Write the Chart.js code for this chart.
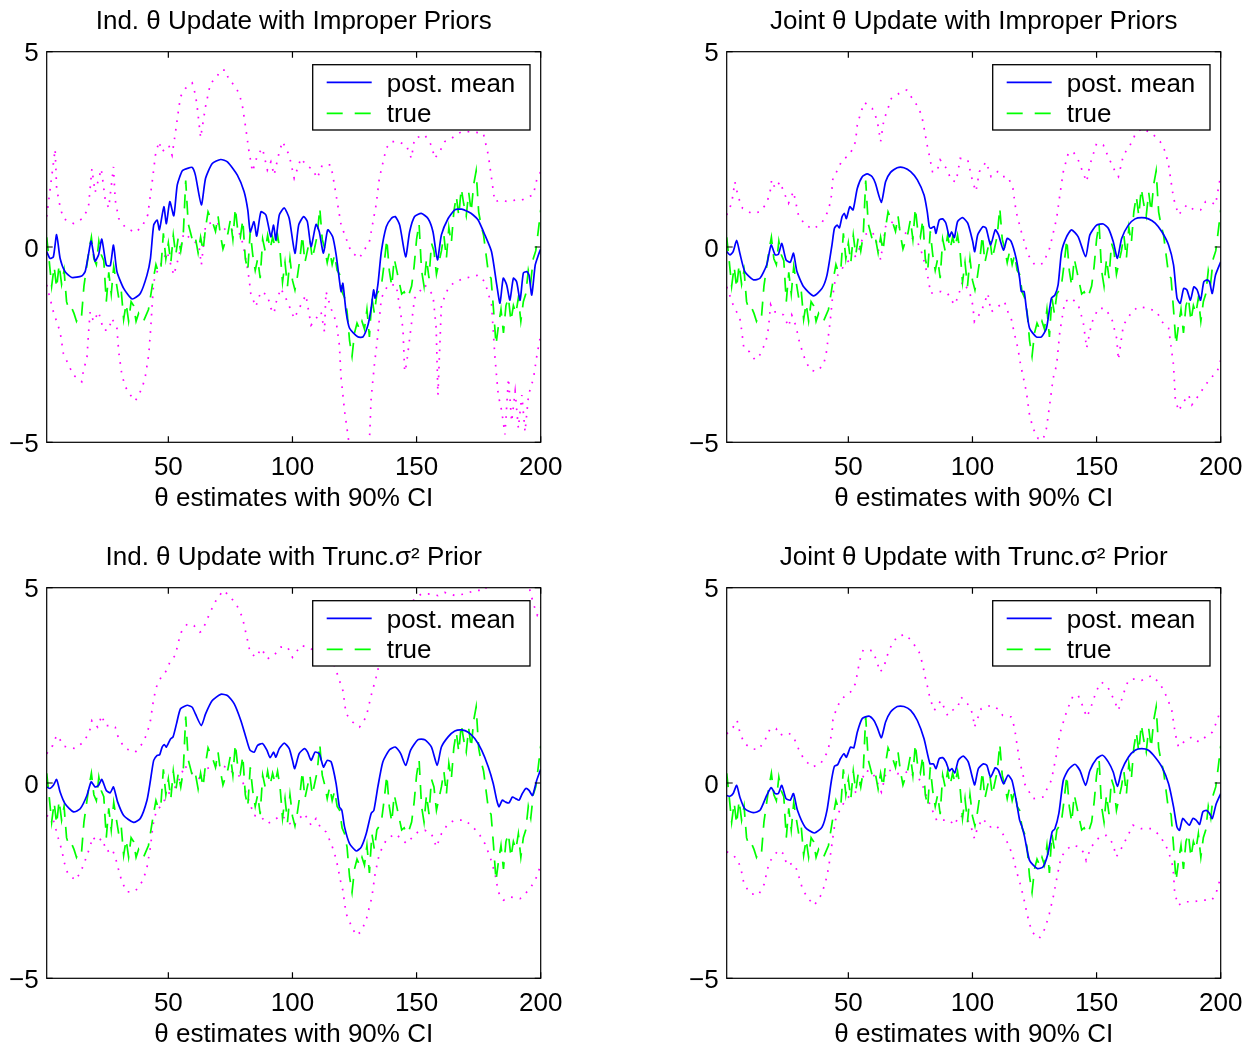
<!DOCTYPE html>
<html><head><meta charset="utf-8">
<script src="https://cdn.jsdelivr.net/npm/chart.js@4/dist/chart.umd.min.js"></script>
<style>
html,body{margin:0;padding:0;background:#fff;overflow:hidden;width:1260px;height:1050px;position:relative;}
canvas{position:absolute;}
</style></head><body>
<canvas id="c1" width="588" height="525" style="left:0;top:0"></canvas>
<canvas id="c2" width="588" height="525" style="left:680px;top:0"></canvas>
<canvas id="c3" width="588" height="525" style="left:0;top:536px"></canvas>
<canvas id="c4" width="588" height="525" style="left:680px;top:536px"></canvas>
<script>
// ---------- labels ----------
const panelTitles = [
  'Ind. \u03B8 Update with Improper Priors',
  'Joint \u03B8 Update with Improper Priors',
  'Ind. \u03B8 Update with Trunc.\u03C3\u00B2 Prior',
  'Joint \u03B8 Update with Trunc.\u03C3\u00B2 Prior'
];
const xAxisTitle = '\u03B8 estimates with 90% CI';
const legendLabels = ['post. mean', 'true'];
const xTickVals = [50, 100, 150, 200];
const yTickVals = [-5, 0, 5];

// ---------- true theta (x = 1..200) ----------
const trueVals = [
 0.25,-0.35,-1.0,-0.5,-1.05,-0.45,-0.95,-0.6,-1.4,-1.6,
 -1.55,-1.7,-1.9,-1.75,-1.8,-1.0,-0.55,-0.1,0.25,-0.3,
 -0.45,0.15,-0.2,-0.35,-1.4,-0.65,-1.2,-0.5,-0.9,-1.3,
 -1.1,-1.85,-1.45,-1.9,-1.4,-1.5,-1.9,-1.7,-1.85,-1.9,
 -1.75,-1.6,-1.2,-0.8,-0.45,-0.65,-0.55,0.35,-0.3,0.1,
 -0.4,0.3,-0.2,0.25,-0.1,0.3,1.7,0.6,0.35,0.1,
 0.2,-0.15,0.25,-0.1,0.5,0.9,0.75,0.6,0.4,0.8,
 0.3,-0.05,0.15,0.35,0.7,0.2,1.0,0.4,0.25,0.7,
 -0.3,-0.6,0.4,-0.2,-0.6,-0.3,-0.8,0.2,-0.1,0.3,
 -0.05,0.25,0.0,0.3,-0.1,-0.9,-0.4,-1.0,-0.3,-0.85,
 -1.1,-0.75,-0.3,0.3,-0.4,-0.1,0.2,-0.3,0.0,0.3,
 1.0,0.2,-0.05,-0.4,-0.1,-0.45,-0.2,-0.6,-0.7,-1.15,
 -1.3,-1.65,-2.4,-2.8,-2.2,-1.95,-2.1,-1.9,-2.1,-1.6,
 -2.3,-1.3,-1.7,-1.2,-1.1,-0.9,-0.4,0.2,-0.6,-1.0,
 -0.3,-0.6,-0.9,-1.2,-1.15,-1.3,-1.2,-1.0,-0.5,0.2,
 0.6,-0.6,-1.0,-0.3,-0.8,0.1,-0.1,-0.7,-0.4,-0.1,
 0.3,-0.3,0.5,0.1,0.9,1.3,0.8,1.5,1.1,0.8,
 1.4,0.9,1.6,1.95,0.9,0.55,0.3,-0.2,-0.7,-0.8,
 -1.6,-2.5,-2.0,-1.6,-2.2,-1.5,-1.3,-1.9,-1.5,-1.7,
 -1.3,-1.9,-1.4,-1.2,-0.6,-0.9,-0.3,-0.1,0.4,0.95
];

// ---------- Panel 1: Ind. update, improper priors ----------
const indImpMean = [[1,-0.12],[2.3,-0.29],[3.7,-0.25],[5,0.32],[6.4,-0.29],[8.4,-0.63],[11.1,-0.78],[15.1,-0.74],[16.5,-0.63],[17.8,-0.2],[18.9,0.15],[20.5,-0.36],[21.9,-0.2],[23.2,0.2],[25,-0.46],[26.6,-0.48],[27.9,0.05],[29.3,-0.63],[32,-1.06],[35.4,-1.33],[38.7,-1.19],[41.4,-0.72],[42.8,-0.29],[44.1,0.56],[45.5,0.69],[46.4,0.44],[48.2,1.03],[49.2,0.6],[50.6,1.16],[52.2,0.8],[53.6,1.59],[55.6,1.95],[57.6,2.01],[59.6,2.04],[60.9,1.84],[63.3,1.08],[65,1.76],[67.7,2.14],[71.1,2.24],[73.8,2.18],[77.8,1.84],[80.5,1.42],[82,0.95],[83,0.39],[84.5,0.65],[85.6,0.28],[87.3,0.9],[89.3,0.82],[91.3,0.26],[92.4,0.56],[93.3,0.18],[94.7,0.82],[96.7,1.0],[98.7,0.73],[101,-0.16],[102.5,0.56],[104.5,0.78],[106,0.65],[107.5,0.01],[109.5,0.58],[110.8,0.39],[112.5,-0.16],[114.2,0.44],[116.2,0.26],[117.6,-0.2],[118.9,-0.84],[119.6,-1.14],[120.3,-0.93],[121.6,-1.66],[123,-2.08],[126.3,-2.3],[128.4,-2.3],[130.4,-2.0],[131.7,-1.57],[132.7,-1.1],[133.3,-1.31],[134.4,-0.97],[135.8,-0.12],[137.8,0.52],[139.8,0.73],[141.4,0.78],[143.2,0.56],[145.6,-0.25],[147.2,0.39],[149.2,0.78],[151.9,0.86],[154.6,0.73],[156.6,0.39],[158.4,-0.33],[160,0.31],[162.7,0.73],[165.4,0.95],[168.1,0.97],[170.8,0.9],[172.8,0.82],[174.8,0.69],[177.5,0.31],[180.2,-0.12],[182.3,-0.97],[183.6,-1.44],[184.9,-0.8],[186.3,-0.97],[187.6,-1.36],[189,-0.8],[190.3,-0.89],[191.7,-1.36],[193,-0.67],[194.4,-0.63],[195.3,-0.72],[196.4,-1.23],[197.8,-0.46],[199.1,-0.2],[200,-0.05]];
const indImpUpper = [[1,0.78],[4.4,2.5],[5,1.5],[6.4,1.03],[7.7,0.73],[11.8,0.6],[15.5,0.73],[17.8,1.0],[19.2,2.0],[20.5,1.4],[23,2.0],[24.6,1.2],[26,1.0],[27.9,2.05],[28.6,1.2],[30,0.73],[32.7,0.5],[36.7,0.37],[39.4,0.52],[41.7,0.82],[43.5,1.67],[44.8,2.35],[46.2,2.7],[47.5,2.44],[50.2,2.6],[51.5,2.35],[52.9,2.95],[54.2,3.55],[54.9,3.85],[56.9,4.06],[59.6,4.2],[60.9,3.9],[61.6,3.6],[63,2.8],[65,3.6],[67,4.2],[69,4.3],[71.1,4.53],[73.1,4.53],[74.4,4.27],[76.5,4.15],[78.5,3.93],[79.8,3.63],[81.2,3.04],[82.5,2.44],[83.9,1.93],[85.9,2.35],[87.9,2.53],[89.9,1.97],[91.3,2.18],[92.6,1.84],[94.7,2.44],[96,2.7],[98.7,2.35],[100.7,1.76],[103.4,2.27],[106,2.06],[108,2.0],[110,1.76],[112,2.1],[115.5,2.1],[116.9,1.59],[119.6,0.56],[123.6,-0.12],[126.9,-0.29],[131,0.14],[133.7,1.08],[135,1.76],[137.8,2.53],[139.8,2.7],[142.5,2.7],[145.9,2.6],[147.9,2.27],[149.2,2.78],[153.3,2.87],[156,2.6],[157.3,2.27],[159.3,2.44],[161.4,2.7],[164,2.78],[168,2.95],[172,2.95],[176.9,2.91],[178.9,2.35],[181.5,1.16],[183.6,1.2],[187,1.16],[189.7,1.2],[192.4,1.2],[195.1,1.29],[197,1.33],[198.4,1.72],[200,1.93]];
const indImpLower = [[1,-0.97],[3.7,-1.66],[6.4,-2.17],[7.7,-2.72],[9.8,-3.02],[11.8,-3.28],[15.1,-3.45],[15.8,-3.15],[17.2,-2.85],[17.8,-2.25],[18.5,-1.66],[19.9,-1.91],[21.9,-1.66],[23.9,-2.13],[25.9,-2.13],[27.3,-1.83],[29.3,-2.08],[30,-2.68],[31.3,-3.28],[32.7,-3.58],[34.7,-3.79],[36.7,-3.94],[39.4,-3.62],[40.7,-3.32],[42.1,-2.76],[42.8,-2.17],[44.1,-0.89],[45.5,-0.63],[46.8,-0.46],[48.2,-0.29],[49.5,-0.12],[52.2,-0.72],[54,-0.3],[56.2,0.35],[58.9,0.22],[62.3,0.05],[63.3,-0.46],[65,0.56],[68.4,0.65],[71.8,0.52],[73.8,0.39],[76.5,0.44],[79.2,0.31],[81.2,-0.29],[82.5,-0.8],[83.2,-1.19],[85.2,-1.53],[87.3,-1.14],[89.9,-1.23],[91.3,-1.57],[92.6,-1.7],[93.3,-1.44],[95.3,-1.06],[98,-1.4],[100.7,-1.83],[102.7,-1.57],[105.4,-1.23],[107.5,-2.0],[109.5,-1.83],[111.5,-1.66],[112.9,-2.17],[113.5,-1.14],[115.5,-1.57],[117.6,-1.91],[118.9,-2.51],[119.6,-3.36],[121,-4.2],[122.3,-4.8],[124,-5.6],[127,-6.5],[129,-6.0],[131,-4.98],[131.7,-3.87],[133,-3.02],[134.4,-2.25],[135.8,-1.31],[138.5,-0.97],[141.8,-0.97],[144.5,-2.08],[145.2,-3.19],[145.9,-3.02],[149.2,-1.31],[153.3,-0.97],[156.6,-1.23],[157.9,-2.08],[158.6,-3.79],[160,-1.48],[162.7,-1.06],[165.4,-0.89],[169.5,-0.8],[174.8,-0.72],[177.5,-0.89],[180.2,-1.48],[181.6,-2.85],[182.9,-3.79],[184.3,-4.2],[185.6,-4.8],[187,-3.36],[188.3,-4.47],[189.7,-3.7],[191,-4.64],[192.4,-3.79],[193.7,-4.73],[195.1,-3.79],[197.1,-3.36],[198.5,-2.76],[200,-2.25]];

// ---------- Panel 2: Joint update, improper priors ----------
const jointImpMean = [[1,-0.12],[2.3,-0.2],[3.6,-0.12],[5,0.17],[6.3,-0.16],[8.3,-0.63],[11.7,-0.84],[14.4,-0.8],[17.1,-0.46],[18.9,0.05],[20.5,-0.2],[21.8,-0.19],[23.2,0.09],[24.9,-0.33],[26.6,-0.39],[27.9,-0.16],[29.3,-0.63],[32,-1.02],[36,-1.25],[39.4,-1.06],[41.4,-0.72],[43.4,0.05],[44.4,0.48],[45.5,0.56],[46.4,0.49],[47.5,0.78],[48.4,0.86],[49.2,0.73],[50.6,1.03],[51.9,0.95],[53.6,1.5],[55.6,1.8],[57.6,1.87],[59.6,1.8],[60.9,1.63],[63.3,1.14],[65,1.67],[67,1.91],[69.7,2.03],[72.4,2.03],[75.1,1.93],[77.8,1.72],[80.5,1.33],[81.8,0.9],[82.6,0.52],[83.2,0.48],[84.6,0.52],[85.3,0.35],[86.6,0.69],[88,0.72],[89.3,0.61],[90.7,0.26],[91.6,0.39],[92.7,0.24],[94,0.65],[96,0.75],[98.1,0.61],[100.1,0.14],[100.9,-0.12],[102.1,0.31],[104.2,0.52],[105.5,0.48],[107.3,0.05],[109.2,0.44],[110.5,0.31],[112.5,-0.08],[114,0.22],[115.6,0.14],[117.6,-0.29],[119,-0.8],[119.7,-1.14],[120.8,-1.14],[121.7,-1.57],[123,-2.08],[125.7,-2.3],[127.8,-2.3],[129.8,-2.08],[131.8,-1.31],[133.2,-1.23],[134.5,-0.97],[135.9,-0.12],[137.9,0.26],[139.9,0.44],[142.6,0.26],[145.6,-0.25],[147.3,0.31],[150,0.56],[152.7,0.59],[154.7,0.48],[156.7,0.14],[158.4,-0.29],[160.1,0.22],[162.8,0.56],[165.5,0.72],[168.2,0.75],[170.9,0.72],[173.6,0.61],[176.3,0.39],[179,0.05],[181,-0.46],[182.4,-1.31],[183.7,-1.44],[185.1,-1.06],[186.4,-1.1],[187.8,-1.36],[189.2,-1.02],[190.5,-1.1],[191.9,-1.36],[193.2,-0.89],[194.6,-0.84],[195.5,-0.89],[196.6,-1.19],[197.9,-0.72],[200,-0.38]];
const jointImpUpper = [[1,0.82],[3,1.12],[4.3,1.67],[5.6,1.29],[7.4,0.99],[11,0.86],[14.4,0.9],[17.1,1.12],[18.5,1.42],[19.1,1.72],[20.5,1.5],[22.5,1.67],[23.9,1.42],[25.9,1.12],[27.9,1.42],[29.9,0.82],[32.6,0.56],[36,0.46],[39.4,0.63],[41.7,0.9],[43,1.2],[43.8,1.77],[45.5,1.95],[47.5,2.23],[49.5,2.31],[51.5,2.48],[52.9,2.7],[53.6,3.12],[54.9,3.42],[56.5,3.7],[59.6,3.55],[61.6,3.25],[63,2.7],[64.3,3.25],[65.7,3.5],[67.3,3.8],[70.4,3.93],[73.5,4.02],[75.8,3.8],[78.5,3.55],[79.9,3.25],[80.8,2.95],[81.6,2.65],[82.6,2.35],[83.9,1.93],[85.7,1.93],[87,2.23],[90,1.97],[91.3,1.71],[93.4,1.67],[95.1,2.27],[98.1,2.23],[100.1,1.67],[101.4,1.42],[102.8,1.93],[105.5,2.18],[107.5,1.8],[110.2,1.93],[112.2,1.8],[114.3,1.8],[116.3,1.5],[117.6,0.9],[119.7,0.39],[122.4,-0.2],[125.1,-0.46],[128.5,-0.42],[131.1,-0.03],[133.9,0.73],[135.2,1.33],[136.6,1.93],[138.6,2.4],[140.6,2.44],[142.6,2.23],[144.6,1.89],[146,1.67],[147.3,2.1],[150,2.65],[152.7,2.61],[154.7,2.31],[157.5,1.93],[158.8,1.8],[160.8,2.35],[163.5,2.61],[165.5,2.87],[168.2,3.04],[172.3,2.91],[175.6,2.7],[177.7,2.44],[179,2.1],[181,1.25],[183,0.82],[186.4,1.08],[189.2,0.95],[191.9,0.95],[193.9,1.16],[195.9,1.16],[197.9,1.08],[200,1.84]];
const jointImpLower = [[1,-1.02],[3.6,-1.48],[6.3,-1.83],[7,-2.12],[7.9,-2.59],[10.1,-2.68],[12.4,-2.89],[14.4,-2.76],[16.8,-2.42],[17.8,-2.08],[18.7,-1.48],[19.8,-1.66],[21.8,-1.66],[23.9,-1.74],[25.9,-2.04],[27.2,-1.74],[29,-2.04],[29.9,-2.34],[31.3,-2.64],[32.6,-2.89],[34.7,-3.15],[37.1,-3.19],[40,-3.02],[41.1,-2.72],[41.7,-2.42],[42.8,-1.83],[43.6,-1.31],[44.8,-0.8],[46.8,-0.63],[48.8,-0.42],[51.5,-0.29],[53.6,-0.2],[56.2,0.31],[59.6,0.39],[61,0.22],[63,-0.33],[65,0.52],[67,0.65],[69.7,0.56],[72.4,0.39],[75.8,0.22],[77.8,0.14],[79.9,-0.2],[81.9,-0.72],[83.2,-1.19],[85.3,-1.14],[87.3,-1.14],[90,-1.19],[92.7,-1.48],[94,-1.31],[96,-0.89],[98.8,-1.14],[100.1,-1.48],[100.8,-1.91],[103.5,-1.66],[106.2,-1.19],[107.5,-1.66],[110.2,-1.53],[112.9,-1.4],[114.3,-1.66],[115.6,-1.83],[117,-2.25],[118.3,-2.59],[119.4,-3.02],[120.3,-3.28],[121.7,-3.7],[123,-4.3],[124.4,-4.64],[126.4,-4.9],[128.4,-4.94],[129.8,-4.64],[131.1,-4.04],[132.5,-3.36],[133.9,-3.02],[135.2,-2.17],[137.2,-1.4],[139.9,-1.31],[142.6,-1.48],[144.6,-1.91],[146,-2.59],[148,-1.95],[150.7,-1.57],[153.4,-1.57],[156.1,-1.83],[158.1,-2.34],[158.8,-2.89],[160.8,-2.0],[164.2,-1.66],[166.9,-1.53],[170.9,-1.57],[174.3,-1.66],[176.3,-1.91],[179,-2.08],[181,-3.02],[181.7,-3.87],[183,-4.2],[185.1,-3.96],[187.1,-3.79],[188.4,-4.04],[191.2,-3.79],[193.9,-3.53],[195.9,-3.36],[198.6,-3.19],[200,-2.9]];

// ---------- Panel 3: Ind. update, truncated sigma^2 prior ----------
const indTrMean = [[1,-0.1],[2.3,-0.14],[3.7,-0.06],[5,0.09],[6.4,-0.23],[8.4,-0.53],[11.8,-0.74],[14.5,-0.66],[17.2,-0.32],[18.9,0.03],[20.5,-0.1],[21.9,-0.06],[23.2,0.09],[25,-0.19],[26.6,-0.25],[27.9,-0.1],[29.6,-0.49],[32,-0.83],[36,-1.01],[38.7,-0.91],[41.4,-0.44],[42.8,0.07],[44.1,0.58],[45.5,0.71],[46.5,0.72],[47.5,0.92],[48.4,0.98],[49.2,0.92],[50.9,1.13],[51.9,1.18],[53.3,1.52],[54.9,1.9],[57.6,1.99],[59.6,1.94],[60.9,1.77],[63.3,1.47],[65,1.77],[67.7,2.11],[71.1,2.27],[73.8,2.24],[76.5,2.03],[79.2,1.6],[81.2,1.18],[82.9,0.84],[84.6,0.79],[85.9,0.96],[87.9,1.01],[89.7,0.84],[91,0.65],[92.4,0.79],[93.3,0.66],[94.7,0.88],[96.7,1.02],[98.7,0.88],[100,0.58],[100.9,0.37],[102.7,0.75],[104.8,0.88],[106.1,0.79],[107.5,0.58],[109.1,0.79],[110.8,0.75],[112.5,0.41],[114,0.58],[115.6,0.54],[117.6,-0.02],[118.9,-0.61],[119.9,-0.7],[121,-1.13],[123,-1.55],[125.7,-1.74],[127.7,-1.64],[129.7,-1.3],[131.7,-0.78],[132.8,-0.7],[134.4,-0.1],[136.4,0.54],[139.1,0.85],[141.4,0.92],[143.6,0.75],[145.6,0.45],[147.6,0.84],[150.6,1.11],[153.3,1.11],[156,0.92],[158.3,0.45],[160,0.92],[162.7,1.18],[165.4,1.33],[168.1,1.36],[170.8,1.3],[173.5,1.13],[176.2,0.84],[178.9,0.41],[180.9,-0.02],[182.3,-0.44],[183.2,-0.61],[184.5,-0.44],[185.9,-0.49],[187.2,-0.51],[188.6,-0.36],[189.9,-0.4],[191.3,-0.44],[192.6,-0.27],[194,-0.14],[195.3,-0.19],[196.7,-0.32],[198.4,0.07],[200,0.35]];
const indTrUpper = [[1,0.75],[3.4,0.96],[5,1.22],[5.7,1.18],[8,0.94],[12.5,0.88],[15.8,1.05],[18.2,1.3],[19.2,1.6],[21.5,1.43],[23.2,1.73],[24.6,1.47],[27.3,1.47],[28.6,1.43],[30,1.13],[32.7,0.88],[36.7,0.79],[39.4,1.0],[41.4,1.26],[42.8,1.6],[44.1,2.16],[45.2,2.46],[47.1,2.71],[49.3,2.88],[50.9,3.14],[52.9,3.27],[53.8,3.56],[55.2,3.86],[57.6,4.07],[60.3,4.03],[62.7,3.86],[63.7,3.9],[65.4,4.16],[67.3,4.43],[69.5,4.71],[72.2,4.93],[75.1,4.76],[77.8,4.52],[79.8,4.25],[81.9,3.65],[82.9,3.35],[85.2,3.22],[87.5,3.44],[89.9,3.18],[92.6,3.27],[95.3,3.48],[98,3.48],[100,3.22],[103.4,3.52],[106.1,3.48],[108.8,3.39],[112.8,3.48],[115.6,3.22],[117.6,2.88],[118.9,2.63],[120.3,2.37],[121.6,1.77],[124.3,1.56],[127,1.43],[129.7,1.69],[131.7,2.24],[133.7,2.71],[135,3.05],[137.1,3.48],[139.8,3.86],[142.5,4.16],[145.9,4.46],[149.2,4.71],[151.9,4.84],[154.6,4.84],[158.6,4.8],[161.3,4.88],[165.4,4.8],[169.5,4.84],[173.5,4.93],[177.5,4.93],[180,5.3],[185,5.6],[190,5.5],[195,5.1],[197,4.6],[198.6,4.3],[200,4.5]];
const indTrLower = [[1,-0.83],[3.7,-0.95],[5.7,-1.42],[7.1,-1.72],[8,-2.02],[9.4,-2.3],[12.5,-2.49],[14.7,-2.28],[16.5,-1.98],[18.2,-1.68],[19.6,-1.38],[21.2,-1.51],[23.2,-1.42],[25.3,-1.76],[27.3,-1.68],[28.6,-1.89],[30,-2.23],[31.3,-2.53],[33.3,-2.79],[36.7,-2.77],[39.4,-2.53],[41.2,-2.23],[42.8,-1.64],[43.8,-1.08],[45.2,-0.7],[46.8,-0.61],[48.8,-0.4],[51.5,-0.14],[52.9,-0.1],[54.9,0.15],[56.5,0.45],[58.9,0.28],[62.7,0.11],[63.7,0.07],[65.7,0.37],[68.4,0.45],[71.1,0.45],[73.1,0.41],[75.8,0.28],[77.8,0.24],[79.8,0.07],[81.2,-0.23],[82.9,-0.53],[84.6,-0.83],[87.3,-0.87],[90,-1.04],[92.6,-0.95],[95.3,-0.83],[98,-0.95],[100,-1.13],[102.1,-0.95],[104.8,-0.78],[107.5,-1.08],[109.5,-0.91],[111.5,-1.17],[113.5,-1.25],[115.6,-1.55],[117,-1.81],[118.3,-2.15],[119.3,-2.49],[120.3,-2.75],[121.6,-3.34],[123.6,-3.64],[125.6,-3.9],[127.6,-3.81],[129.7,-3.51],[131,-3.17],[132,-2.92],[133.3,-2.32],[135,-1.81],[137.7,-1.47],[141.1,-1.3],[143.9,-1.42],[145.9,-1.55],[147.9,-1.42],[150.6,-1.25],[153.3,-1.21],[156,-1.3],[158,-1.64],[160,-1.3],[162.7,-1.04],[165.4,-0.95],[169.5,-0.95],[172.8,-1.13],[175.5,-1.34],[177.5,-1.55],[179.6,-1.89],[181.6,-2.32],[182.9,-2.79],[185,-3.0],[187.7,-2.92],[191.7,-2.96],[195.8,-2.7],[198.4,-2.4],[200,-2.1]];

// ---------- Panel 4: Joint update, truncated sigma^2 prior ----------
const jointTrMean = [[1,-0.32],[2.3,-0.34],[3.6,-0.27],[5,-0.06],[6.3,-0.36],[8.3,-0.66],[11.7,-0.76],[14.4,-0.7],[17.1,-0.32],[18.9,-0.12],[20.5,-0.27],[21.8,-0.27],[23.2,-0.06],[24.9,-0.4],[26.6,-0.44],[27.9,-0.27],[29.5,-0.7],[32.6,-1.13],[36.3,-1.28],[39.4,-1.13],[41.4,-0.7],[43.2,0.07],[44.4,0.43],[45.7,0.47],[46.8,0.62],[48.2,0.75],[49.2,0.66],[50.9,0.92],[52.2,0.9],[53.6,1.3],[55.6,1.65],[58.3,1.71],[60.3,1.6],[61.6,1.43],[63.3,1.16],[65,1.56],[67,1.82],[69.7,1.96],[72.4,1.96],[75.1,1.86],[77.8,1.6],[80.5,1.13],[82.9,0.49],[84.3,0.49],[85.3,0.37],[86.6,0.62],[88,0.65],[89.3,0.54],[90.7,0.31],[91.7,0.37],[92.9,0.26],[94.3,0.58],[96.3,0.69],[98.3,0.54],[100.1,0.11],[100.9,-0.05],[102.4,0.37],[104.4,0.49],[105.8,0.45],[107.3,0.15],[109.2,0.39],[110.5,0.32],[112.5,-0.02],[114.3,0.2],[115.9,0.07],[117.6,-0.44],[119,-0.95],[119.9,-1.11],[121,-1.38],[123,-1.98],[126.1,-2.19],[128.4,-2.15],[130.4,-1.81],[132.1,-1.25],[133.2,-1.17],[134.8,-0.78],[136.6,0.07],[138.6,0.34],[141.3,0.48],[143.3,0.32],[145.6,-0.06],[147.3,0.32],[150,0.62],[152.4,0.71],[154.7,0.54],[156.7,0.28],[158.4,-0.09],[160.1,0.32],[162.8,0.66],[165.5,0.84],[168.2,0.88],[170.9,0.84],[173.6,0.66],[176.3,0.41],[179,-0.02],[181,-0.61],[182.4,-1.13],[183.4,-1.21],[184.7,-0.91],[186.1,-1.0],[187.4,-1.08],[188.8,-0.91],[190.1,-0.95],[191.5,-1.06],[192.8,-0.74],[194.2,-0.7],[195.5,-0.78],[196.6,-0.91],[198.2,-0.53],[200,-0.27]];
const jointTrUpper = [[1,1.26],[3.6,1.43],[5.2,1.6],[6.3,1.3],[8,1.02],[11,0.88],[13.8,0.85],[16.5,1.11],[18.5,1.39],[20.9,1.39],[22.5,1.22],[23.9,1.26],[25.9,1.28],[27.9,1.18],[29.9,0.88],[32,0.62],[35.3,0.41],[38.7,0.48],[41.2,0.75],[42.5,1.01],[43.5,1.35],[43.8,1.62],[45.2,1.9],[46.8,2.11],[48.8,2.24],[50.9,2.33],[51.9,2.47],[52.9,2.54],[53.6,2.8],[54.6,3.14],[56,3.41],[59.6,3.39],[61.4,3.14],[62.7,2.84],[64.3,2.95],[65.4,3.22],[67.3,3.52],[69.8,3.76],[73.1,3.8],[75.8,3.61],[78.5,3.35],[79.9,3.05],[80.8,2.75],[81.9,2.46],[82.9,2.16],[84.6,1.86],[87.3,2.11],[90,1.73],[92.6,1.9],[94,1.93],[95.4,2.2],[98,2.03],[100.1,1.77],[100.8,1.43],[103.5,1.9],[107.5,1.99],[110.2,1.9],[112.2,1.73],[115.6,1.69],[116.9,1.43],[119,0.54],[120.3,0.24],[121,-0.02],[124.4,-0.4],[128.4,-0.36],[131.8,0.07],[133.9,0.75],[135.2,1.26],[137.2,1.69],[138.6,1.94],[140.6,2.24],[142.6,2.24],[144.6,1.94],[146,1.69],[147.3,1.86],[150,2.37],[152,2.58],[154.5,2.46],[156.8,2.16],[158.8,1.86],[160.8,2.28],[162.8,2.63],[165.5,2.67],[168.2,2.63],[172.3,2.75],[175.6,2.54],[178.3,2.2],[180.3,1.86],[181.7,1.26],[183,0.92],[185.8,1.09],[188.5,1.18],[191.2,1.05],[193.9,1.18],[196.6,1.3],[198.6,1.6],[200,1.9]];
const jointTrLower = [[1,-1.76],[3.6,-1.85],[5.6,-1.98],[7,-2.28],[7.9,-2.57],[10.4,-2.83],[13.8,-2.87],[16.1,-2.59],[17.1,-2.3],[18.2,-2.02],[19.8,-1.89],[21.8,-1.72],[23.9,-1.81],[25.3,-2.11],[27.3,-2.06],[28.6,-2.11],[29.9,-2.36],[31.3,-2.66],[33.3,-2.92],[36.3,-3.13],[39,-2.87],[40.7,-2.57],[41.7,-2.28],[42.5,-1.98],[43.8,-1.38],[44.8,-0.95],[46.5,-0.7],[48.8,-0.44],[51.5,-0.27],[52.9,-0.23],[54.9,-0.02],[56.9,0.32],[59.6,0.28],[61.6,0.03],[63.3,-0.23],[65.4,0.32],[67.3,0.32],[69.7,0.24],[72.4,0.24],[74.4,0.32],[76.5,0.15],[79.2,0.07],[80.6,-0.19],[81.9,-0.4],[83.6,-0.66],[85.7,-0.97],[88,-0.95],[90.7,-0.95],[92.7,-1.08],[94.7,-0.83],[97.8,-0.91],[99.5,-1.13],[100.8,-1.42],[102.1,-1.13],[104.2,-0.91],[106.8,-1.13],[109.5,-1.08],[112.2,-1.3],[114.3,-1.55],[116.2,-1.85],[117.6,-2.23],[119.4,-2.62],[120.7,-2.96],[121.7,-3.26],[122.6,-3.51],[123.9,-3.81],[126.9,-3.98],[129.2,-3.73],[131,-3.34],[132.7,-2.87],[134.1,-2.4],[135.7,-1.89],[138.4,-1.68],[140.4,-1.59],[143.1,-1.64],[145.1,-1.81],[145.8,-1.98],[147.8,-1.64],[151.2,-1.38],[153.9,-1.34],[156.6,-1.55],[157.9,-1.89],[159.3,-1.76],[162,-1.42],[164.7,-1.08],[168,-1.17],[172.1,-1.17],[175.5,-1.34],[178.8,-1.72],[180.8,-2.15],[181.5,-2.83],[182.9,-3.13],[185.6,-3.04],[189,-3.04],[192.4,-3.0],[196.5,-3.0],[198.5,-2.75],[200,-2.4]];

// ---------- drawing ----------
const FONT = '"Liberation Sans", Arial, Helvetica, sans-serif';
Chart.defaults.font.family = FONT;
Chart.defaults.font.size = 26;
Chart.defaults.color = '#000';

const toXY = arr => arr.map(p => ({x: p[0], y: p[1]}));
const trueXY = trueVals.map((v, i) => ({x: i + 1, y: v}));
const yLabel = v => (v < 0 ? '\u2212' + Math.abs(v) : String(v));

const framePlugin = {
  id: 'frame',
  afterDraw(chart) {
    const {ctx, chartArea: a, scales: {x, y}} = chart;
    ctx.save();
    ctx.strokeStyle = '#000';
    ctx.lineWidth = 1.2;
    ctx.strokeRect(a.left, a.top, a.right - a.left, a.bottom - a.top);
    ctx.beginPath();
    const tl = 6;
    xTickVals.forEach(v => {
      const p = x.getPixelForValue(v);
      ctx.moveTo(p, a.bottom); ctx.lineTo(p, a.bottom - tl);
      ctx.moveTo(p, a.top); ctx.lineTo(p, a.top + tl);
    });
    yTickVals.forEach(v => {
      const p = y.getPixelForValue(v);
      ctx.moveTo(a.left, p); ctx.lineTo(a.left + tl, p);
      ctx.moveTo(a.right, p); ctx.lineTo(a.right - tl, p);
    });
    ctx.stroke();

    // y tick labels (left of the axis box)
    ctx.fillStyle = '#000';
    ctx.font = '26px ' + FONT;
    ctx.textAlign = 'right';
    ctx.textBaseline = 'middle';
    yTickVals.forEach(v => {
      ctx.fillText(yLabel(v), a.left - 8, y.getPixelForValue(v) + 2.5);
    });

    // legend box
    const bx = a.left + 266, by = a.top + 13, bw = 217.3, bh = 65.3;
    ctx.fillStyle = '#fff';
    ctx.fillRect(bx, by, bw, bh);
    ctx.lineWidth = 1.3;
    ctx.strokeRect(bx, by, bw, bh);
    const ds = chart.data.datasets;
    const rows = [a.top + 30.7, a.top + 61.6];
    const bases = [a.top + 40, a.top + 70];
    [0, 1].forEach(i => {
      ctx.beginPath();
      ctx.strokeStyle = ds[i].borderColor;
      ctx.lineWidth = ds[i].borderWidth;
      ctx.setLineDash(i === 1 ? [16, 12] : []);
      ctx.moveTo(a.left + 280, rows[i]);
      ctx.lineTo(a.left + 325, rows[i]);
      ctx.stroke();
      ctx.setLineDash([]);
      ctx.fillStyle = '#000';
      ctx.textBaseline = 'alphabetic';
      ctx.textAlign = 'left';
      ctx.fillText(legendLabels[i], a.left + 340, bases[i]);
    });
    ctx.restore();
  }
};

function makeChart(id, title, mean, upper, lower) {
  const dotted = {borderColor: '#ff00ff', borderWidth: 1.7, borderDash: [1.7, 7], pointRadius: 0, tension: 0, fill: false};
  new Chart(document.getElementById(id), {
    type: 'line',
    data: {
      datasets: [
        {label: legendLabels[0], data: toXY(mean), borderColor: '#0000ff', borderWidth: 1.7, pointRadius: 0, tension: 0.2, fill: false},
        {label: legendLabels[1], data: trueXY, borderColor: '#00ff00', borderWidth: 1.7, borderDash: [14, 10], pointRadius: 0, tension: 0, fill: false},
        Object.assign({label: 'upper', data: toXY(upper)}, dotted),
        Object.assign({label: 'lower', data: toXY(lower)}, dotted)
      ]
    },
    options: {
      responsive: false,
      animation: false,
      devicePixelRatio: 1,
      layout: {padding: {left: 46.7, right: 47.3, top: 0, bottom: 0}},
      plugins: {
        legend: {display: false},
        tooltip: {enabled: false},
        title: {display: true, text: title, color: '#000', font: {size: 26, weight: 'normal', family: FONT}, padding: {top: 6, bottom: 14.5}}
      },
      scales: {
        x: {
          type: 'linear', min: 1, max: 200,
          grid: {display: false, drawTicks: false},
          border: {display: false},
          afterBuildTicks: s => { s.ticks = xTickVals.map(v => ({value: v})); },
          afterFit: s => { s.height = 82.7; },
          ticks: {color: '#000', padding: 10, maxRotation: 0, autoSkip: false, font: {size: 26}, callback: v => String(v)},
          title: {display: true, text: xAxisTitle, color: '#000', font: {size: 26}, padding: {top: 0, bottom: 10.4}}
        },
        y: {
          type: 'linear', min: -5, max: 5,
          grid: {display: false, drawTicks: false},
          border: {display: false},
          afterBuildTicks: s => { s.ticks = yTickVals.map(v => ({value: v})); },
          afterFit: s => { s.width = 0; },
          ticks: {display: false}
        }
      }
    },
    plugins: [framePlugin]
  });
}

makeChart('c1', panelTitles[0], indImpMean, indImpUpper, indImpLower);
makeChart('c2', panelTitles[1], jointImpMean, jointImpUpper, jointImpLower);
makeChart('c3', panelTitles[2], indTrMean, indTrUpper, indTrLower);
makeChart('c4', panelTitles[3], jointTrMean, jointTrUpper, jointTrLower);
</script>
</body></html>
